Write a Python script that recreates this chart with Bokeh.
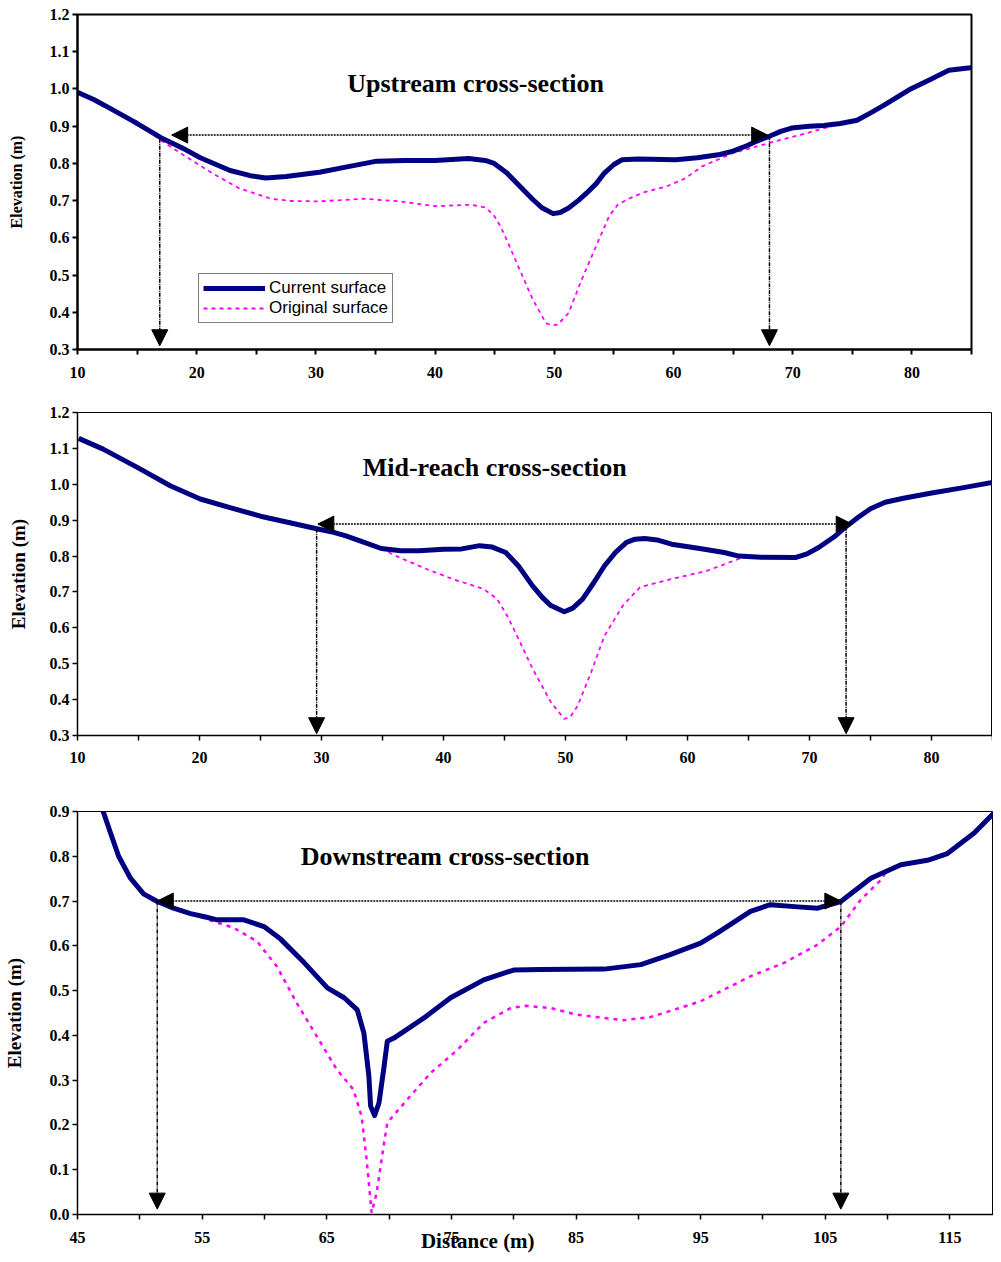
from bokeh.plotting import figure
from bokeh.layouts import column
from bokeh.models import Arrow, NormalHead, Label, FixedTicker, PrintfTickFormatter, Range1d
from bokeh.embed import file_html
from bokeh.resources import INLINE

# ---------------- data ----------------
# Upstream cross-section
up_cur_x = [10, 11.4, 13, 14.7, 17, 19.05, 20.3, 22.8, 24.5, 25.8, 27.5, 30.3, 32.5, 35.1, 37.5, 40, 42.8, 44.2,
            44.9, 46, 46.7, 47.5, 48.2, 49, 49.9, 50.5, 51.2, 52, 52.7, 53.5, 54.2, 55, 55.7, 57, 60.2, 62, 63.9,
            65, 66.2, 67, 68.05, 69, 69.9, 71.4, 72.6, 74, 75.4, 76.5, 77.6, 79.9, 81.5, 83.1, 84.9, 85]
up_cur_y = [0.991, 0.971, 0.943, 0.913, 0.869, 0.837, 0.815, 0.781, 0.767, 0.761, 0.765, 0.776, 0.79, 0.806, 0.808,
            0.808, 0.813, 0.808, 0.801, 0.775, 0.752, 0.726, 0.703, 0.68, 0.665, 0.668, 0.68, 0.70, 0.72, 0.745,
            0.774, 0.797, 0.81, 0.812, 0.81, 0.815, 0.824, 0.833, 0.848, 0.86, 0.873, 0.886, 0.895, 0.900, 0.902,
            0.907, 0.916, 0.935, 0.955, 1.0, 1.025, 1.05, 1.057, 1.058]
up_org_x = [14.9, 16.8, 19.05, 21.3, 23.5, 26.2, 28, 30.3, 34, 37, 40, 43, 44.2, 44.9, 45.5, 46, 47.1, 48.2, 49.3,
            49.8, 50.3, 51.2, 52.3, 53.5, 54.6, 55.3, 56.1, 57.5, 59.4, 61, 62.4, 65, 68.05, 70.7, 73.7, 75.4]
up_org_y = [0.915, 0.866, 0.819, 0.774, 0.734, 0.705, 0.699, 0.698, 0.705, 0.698, 0.685, 0.689, 0.682, 0.662,
            0.63, 0.595, 0.514, 0.434, 0.371, 0.365, 0.367, 0.398, 0.488, 0.577, 0.658, 0.688, 0.703, 0.722,
            0.738, 0.76, 0.792, 0.828, 0.855, 0.877, 0.904, 0.916]
up_bank_x = [16.9, 68.05]
up_tip_x = [17.9, 67.9]
up_bank_top = [0.866, 0.873]
up_level = 0.876
up_floor = 0.31

# Mid-reach cross-section
mid_cur_x = [10.1, 12.1, 14.9, 17.6, 20.06, 22.5, 25, 27.5, 29.6, 31, 32, 33.5, 34.9, 36.5, 38, 40, 41.5, 42.95,
             44, 45.1, 46.2, 47.3, 48.1, 48.8, 49.9, 50.6, 51.4, 52.3, 53.2, 54.1, 55, 55.7, 56.5, 57.5, 58.7,
             61, 63, 64.2, 66, 68.9, 69.8, 70.75, 72, 73, 74, 75, 76.2, 77.7, 79.9, 82.5, 85]
mid_cur_y = [1.128, 1.098, 1.047, 0.996, 0.959, 0.935, 0.911, 0.892, 0.876, 0.866, 0.856, 0.838, 0.821, 0.815,
             0.815, 0.819, 0.82, 0.829, 0.825, 0.81, 0.77, 0.717, 0.685, 0.662, 0.645, 0.655, 0.68, 0.725, 0.773,
             0.81, 0.838, 0.847, 0.849, 0.845, 0.833, 0.821, 0.81, 0.80, 0.797, 0.796, 0.806, 0.824, 0.853, 0.882,
             0.908, 0.932, 0.95, 0.961, 0.975, 0.99, 1.005]
mid_org_x = [34.9, 36.4, 38.6, 40.75, 43.3, 44.4, 45.2, 45.9, 47.3, 48.8, 49.9, 50.4, 51, 52.1, 53.2, 54.7, 56.1,
             58.7, 61.6, 64.5, 65.5]
mid_org_y = [0.82, 0.796, 0.764, 0.736, 0.708, 0.68, 0.635, 0.587, 0.486, 0.393, 0.346, 0.352, 0.383, 0.476,
             0.578, 0.662, 0.713, 0.736, 0.759, 0.796, 0.80]
mid_bank_x = [29.6, 73.0]
mid_tip_x = [29.7, 73.5]
mid_bank_top = [0.876, 0.882]
mid_level = 0.889
mid_floor = 0.305

# Downstream cross-section
down_cur_x = [47.0, 47.65, 48.3, 49.25, 50.3, 51.4, 52.7, 54.07, 55.2, 56.2, 58.35, 59.96, 61.3, 63.2, 65.05,
              66.4, 67.45, 67.98, 68.38, 68.52, 68.84, 69.19, 69.6, 69.86, 70.39, 72.8, 74.94, 77.6, 80, 82.17,
              87.25, 90.2, 92.5, 95, 96.35, 99, 100.6, 102.8, 104.4, 106.25, 108.66, 111.07, 113.2, 114.8,
              116.95, 118.8]
down_cur_y = [0.905, 0.852, 0.8, 0.751, 0.716, 0.699, 0.684, 0.672, 0.665, 0.658, 0.658, 0.643, 0.615, 0.562,
              0.506, 0.484, 0.457, 0.405, 0.309, 0.242, 0.221, 0.249, 0.331, 0.387, 0.394, 0.439, 0.484, 0.524,
              0.546, 0.547, 0.548, 0.558, 0.58, 0.606, 0.629, 0.677, 0.692, 0.687, 0.684, 0.699, 0.751, 0.781,
              0.791, 0.806, 0.852, 0.904]
down_org_x = [54.9, 57.55, 59.4, 61, 62.6, 64.2, 65.8, 67.14, 67.8, 68.2, 68.6, 69.0, 69.6, 69.86, 71.47, 73.34,
              75.5, 77.6, 79.76, 81, 82.97, 85.1, 88.85, 91, 95, 99, 101.7, 104.4, 106.25, 107.85, 109.5, 110]
down_org_y = [0.664, 0.64, 0.61, 0.554, 0.472, 0.398, 0.324, 0.279, 0.219, 0.123, 0.004, 0.048, 0.16, 0.205,
              0.257, 0.316, 0.368, 0.428, 0.461, 0.466, 0.461, 0.446, 0.434, 0.441, 0.476, 0.532, 0.562, 0.603,
              0.643, 0.703, 0.748, 0.771]
down_bank_x = [51.4, 106.25]
down_tip_x = [51.4, 106.25]
down_bank_top = [0.699, 0.699]
down_level = 0.70
down_floor = 0.012

x_ticks_1 = [10, 20, 30, 40, 50, 60, 70, 80]
x_minor_1 = [15, 25, 35, 45, 55, 65, 75, 85]
y_ticks_1 = [0.3, 0.4, 0.5, 0.6, 0.7, 0.8, 0.9, 1.0, 1.1, 1.2]
x_ticks_3 = [45, 55, 65, 75, 85, 95, 105, 115]
x_minor_3 = [50, 60, 70, 80, 90, 100, 110]
y_ticks_3 = [0.0, 0.1, 0.2, 0.3, 0.4, 0.5, 0.6, 0.7, 0.8, 0.9]

SERIF = "Liberation Serif"
SANS = "Liberation Sans"
NAVY = "#000080"
MAGENTA = "#FF00FF"


def make_fig(xr, yr, fw, fh, bl, br, bt, bb, xt, xm, yt, axis_w, outline_w, ylab_size, ylab_standoff,
             xlab_standoff):
    p = figure(x_range=Range1d(*xr), y_range=Range1d(*yr), frame_width=fw, frame_height=fh,
               min_border_left=bl, min_border_right=br, min_border_top=bt, min_border_bottom=bb,
               output_backend="svg", toolbar_location=None)
    p.grid.visible = False
    p.background_fill_color = "white"
    p.border_fill_color = "white"
    p.outline_line_color = "black"
    p.outline_line_width = outline_w
    p.outline_line_alpha = 1
    p.xaxis.ticker = FixedTicker(ticks=xt, minor_ticks=xm)
    p.yaxis.ticker = FixedTicker(ticks=yt)
    p.yaxis.formatter = PrintfTickFormatter(format="%.1f")
    for ax in (p.xaxis[0], p.yaxis[0]):
        ax.axis_line_width = axis_w
        ax.axis_line_color = "black"
        ax.major_tick_line_color = "black"
        ax.major_tick_line_width = axis_w
        ax.major_tick_in = 0
        ax.major_tick_out = 5
        ax.minor_tick_in = 0
        ax.minor_tick_out = 5
        ax.minor_tick_line_width = axis_w
        ax.major_label_text_font = SERIF
        ax.major_label_text_font_style = "bold"
        ax.major_label_text_font_size = "16px"
        ax.major_label_text_color = "black"
    p.yaxis.minor_tick_line_color = None
    p.xaxis.minor_tick_line_color = "black"
    p.yaxis.major_label_standoff = 3
    p.xaxis.major_label_standoff = xlab_standoff
    p.yaxis.axis_label = "Elevation (m)"
    p.yaxis.axis_label_text_font = SERIF
    p.yaxis.axis_label_text_font_style = "bold"
    p.yaxis.axis_label_text_font_size = ylab_size
    p.yaxis.axis_label_text_color = "black"
    p.yaxis.axis_label_standoff = ylab_standoff
    return p


def add_banks(p, bank_x, tip_x, bank_top, level, floor):
    p.add_layout(Arrow(start=NormalHead(size=16, fill_color="black", line_color="black", line_width=1),
                       end=NormalHead(size=16, fill_color="black", line_color="black", line_width=1),
                       x_start=tip_x[0], y_start=level, x_end=tip_x[1], y_end=level,
                       line_color="black", line_width=1.5, line_dash="2 1"))
    for xb, yb in zip(bank_x, bank_top):
        p.add_layout(Arrow(start=None,
                           end=NormalHead(size=16, fill_color="black", line_color="black", line_width=1),
                           x_start=xb, y_start=yb, x_end=xb, y_end=floor,
                           line_color="black", line_width=1.5, line_dash="4 1 1 1"))


def title(p, x, y, text, size):
    p.add_layout(Label(x=x, y=y, text=text, text_font=SERIF, text_font_style="bold",
                       text_font_size=size, text_align="center", text_baseline="middle",
                       text_color="black"))


# ---------------- Upstream ----------------
p1 = make_fig((10, 85), (0.3, 1.2), 894, 335, 69, 22, 14, 45, x_ticks_1, x_minor_1, y_ticks_1,
              2, 2, "16px", 22, 12)
add_banks(p1, up_bank_x, up_tip_x, up_bank_top, up_level, up_floor)
p1.line(up_org_x, up_org_y, line_color=MAGENTA, line_width=1.8, line_dash="4 4",
        legend_label="Original surface")
p1.line(up_cur_x, up_cur_y, line_color=NAVY, line_width=5, line_join="round",
        legend_label="Current surface")
title(p1, 43.4, 1.015, "Upstream cross-section", "26px")
lg = p1.legend[0]
lg.items = list(reversed(lg.items))
lg.location = (121, 26)
lg.margin = 0
lg.padding = 4
lg.spacing = 0
lg.glyph_width = 62
lg.glyph_height = 20
lg.label_height = 20
lg.label_standoff = 4
lg.label_text_font = SANS
lg.label_text_font_size = "17px"
lg.label_text_color = "black"
lg.border_line_color = "black"
lg.border_line_width = 1
lg.background_fill_color = "white"
lg.background_fill_alpha = 1

# ---------------- Mid-reach ----------------
p2 = make_fig((10, 85), (0.3, 1.2), 915, 323, 66, 4, 18, 48, x_ticks_1, x_minor_1, y_ticks_1,
              1.5, 1, "19px", 18, 11)
add_banks(p2, mid_bank_x, mid_tip_x, mid_bank_top, mid_level, mid_floor)
p2.line(mid_org_x, mid_org_y, line_color=MAGENTA, line_width=1.8, line_dash="4 4")
p2.line(mid_cur_x, mid_cur_y, line_color=NAVY, line_width=5, line_join="round")
title(p2, 44.2, 1.048, "Mid-reach cross-section", "26px")

# ---------------- Downstream ----------------
p3 = make_fig((45, 118.5), (0.0, 0.9), 916, 403, 69, 0, 28, 39, x_ticks_3, x_minor_3, y_ticks_3,
              1.5, 1, "19px", 22, 12)
add_banks(p3, down_bank_x, down_tip_x, down_bank_top, down_level, down_floor)
p3.line(down_org_x, down_org_y, line_color=MAGENTA, line_width=2.5, line_dash="4 5")
p3.line(down_cur_x, down_cur_y, line_color=NAVY, line_width=5, line_join="round")
title(p3, 74.5, 0.799, "Downstream cross-section", "26px")
# axis title sits left of centre in the reference; trailing no-break spaces shift the centred text
p3.xaxis.axis_label = "Distance (m)" + "\u00a0" * 22
p3.xaxis.axis_label_text_font = SERIF
p3.xaxis.axis_label_text_font_style = "bold"
p3.xaxis.axis_label_text_font_size = "21px"
p3.xaxis.axis_label_text_color = "black"
p3.xaxis.axis_label_standoff = -17

layout = column(p1, p2, p3, spacing=0)
open("out.html", "w").write(file_html(layout, INLINE))
